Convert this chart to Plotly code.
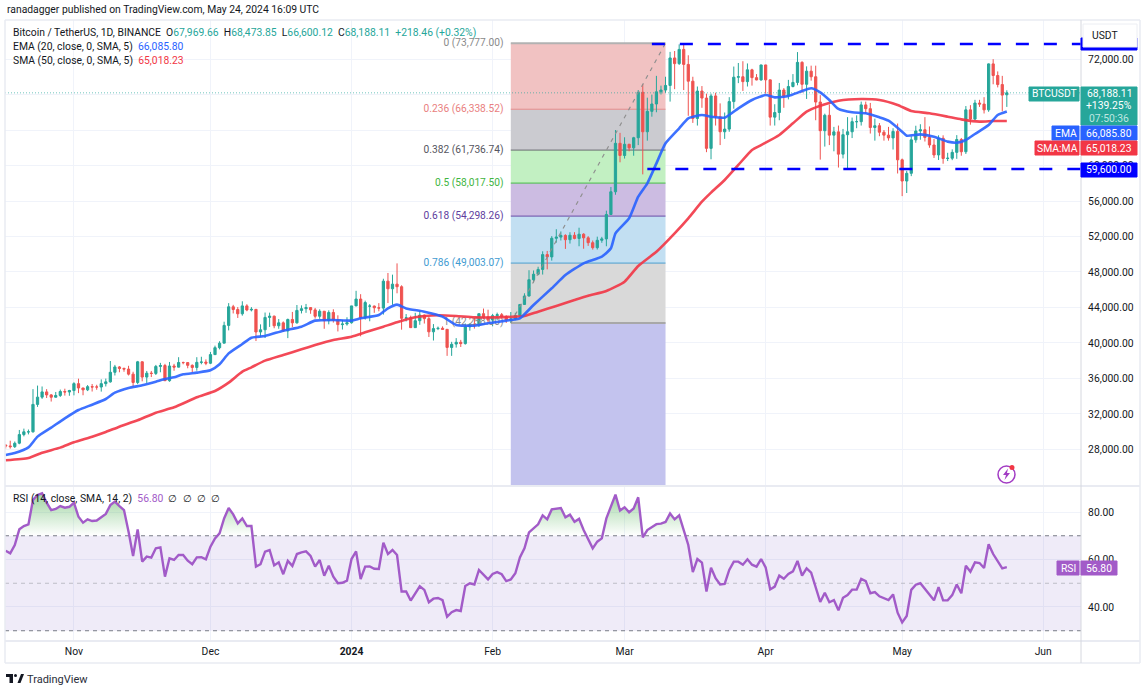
import pandas as pd
import plotly.graph_objects as go
from plotly.subplots import make_subplots

W, H = 1147, 690
PANE_L, PANE_R, PANE_T, PANE_B = 5, 1081, 20, 641
TEXT = "#131722"
FONT = "Roboto, 'Open Sans', sans-serif"
UP = "#26a69a"
DOWN = "#ef5350"
EMA_COL = "#2962ff"
SMA_COL = "#f23645"
RSI_COL = "#a25bc8"
GRID = "#f0f3fa"
BORDER = "#e9ebf2"

first_day = "2023-10-17"
last_day = "2024-05-24"

opens = [
    28500, 28400, 28320, 28713, 29680, 29990, 29990, 33080, 33900, 34490, 34150, 33890, 34090, 34530, 34480,
    34640, 35420, 34930, 34720, 35080, 35040, 35040, 35420, 35620, 36700, 37300, 37130, 37060, 36490, 35550,
    37880, 36160, 36600, 36570, 37360, 37460, 35750, 37410, 37280, 37800, 37790, 37480, 37240, 37820, 37850,
    37720, 38690, 39470, 39980, 41980, 44080, 43770, 43290, 44180, 43720, 43790, 41240, 41490, 42880, 43020,
    41940, 42270, 41360, 42650, 42270, 43670, 43860, 43990, 43730, 43010, 43580, 42520, 43440, 42580, 42070, 42140,
    42280, 44180, 44950, 42850, 44150, 44160, 43970, 43930, 46970, 46110, 46630, 46340, 42780, 42840, 41730, 42510,
    43140, 42740, 41260, 41620, 41660, 41540, 39500, 39880, 40080, 39930, 41820, 42120, 42030, 43300, 42940,
    42580, 43080, 43190, 42990, 42580, 42700, 43090, 44340, 45290, 47130, 47750, 48290, 49960, 49700, 51800,
    51930, 52120, 51640, 52140, 51780, 52260, 51850, 51300, 50740, 51570, 51730, 54480, 57040, 62500,
    61130, 62390, 61990, 63130, 68250, 63800, 66100, 66930, 68300, 68500, 69020, 72120, 71480, 73080, 71390,
    69500, 65300, 68390, 67600, 61930, 67840, 65500, 63800, 64100, 67200, 69950, 70000, 69450, 70780, 69900, 69640,
    71330, 69650, 65450, 65970, 68500, 67830, 68900, 69360, 71620, 69150, 70630, 70000, 67150, 63920, 65660,
    63420, 63790, 61280, 63470, 63800, 64940, 64940, 66830, 66400, 64280, 64480, 63750, 63420, 63110, 63840,
    60640, 58250, 59120, 62890, 63890, 64030, 63160, 62310, 61190, 63070, 60790, 60820, 61480, 62930, 61550,
    66270, 65230, 67040, 66920, 66270, 71450, 70140, 69120, 67969.66,
]
highs = [
    28600, 28990, 28900, 30200, 30350, 30250, 34800, 35200, 35100, 34800, 34250, 34480, 34750, 34850, 34720,
    35580, 35980, 34940, 35260, 35380, 35290, 35900, 35990, 37970, 37530, 37400, 37230, 37430, 36760, 37980,
    37930, 36850, 36850, 37530, 37760, 37650, 37860, 37650, 38400, 37900, 37840, 37590, 38400, 38450, 38150,
    38990, 39700, 40200, 42400, 44490, 44300, 44050, 44700, 44370, 44040, 43810, 42100, 43430, 43420, 43090,
    42700, 42430, 42750, 43500, 44280, 44240, 44400, 44020, 43950, 43800, 43600, 43680, 43800, 43120, 42600, 42900,
    44180, 45880, 45500, 44770, 44380, 44220, 44490, 47240, 47890, 47700, 48970, 46500, 43260, 43080, 43400, 43570,
    43200, 42930, 42130, 41850, 41870, 41550, 40130, 40550, 40350, 42200, 42190, 42840, 43300, 43880, 43750,
    43280, 43420, 43380, 43120, 43490, 43400, 44380, 45600, 48200, 48170, 48590, 50330, 50370, 52040, 52820,
    52570, 52250, 52480, 52490, 52990, 52370, 52040, 51550, 51980, 51960, 54910, 57580, 64000, 63680,
    63180, 62440, 63230, 68500, 69170, 67640, 67990, 70100, 69000, 70000, 72800, 72900, 73650, 73777, 72420,
    70000, 68900, 68950, 68100, 68100, 68200, 67000, 65970, 67700, 71150, 71550, 71750, 71500, 70900, 70300, 71350,
    71350, 69670, 66900, 69300, 68720, 69650, 70300, 72780, 71750, 71170, 71250, 71250, 67930, 65840, 66880,
    64350, 64500, 64120, 65450, 65400, 65650, 67200, 67200, 67050, 65280, 64780, 64000, 64350, 64200, 64730,
    60780, 59400, 63300, 64480, 64650, 65450, 64400, 63000, 63400, 63400, 61430, 61820, 63420, 63100, 66700,
    66800, 67400, 67400, 67700, 71500, 71980, 70600, 70100, 68473.85,
]
lows = [
    28100, 28100, 28170, 28590, 29480, 29700, 29900, 32800, 33700, 33800, 33400, 33860, 33920, 34070, 34050,
    34100, 34350, 34110, 34580, 34530, 34730, 34520, 35100, 35530, 36340, 36700, 36760, 36340, 35050, 35360,
    35680, 35500, 36160, 36390, 36700, 35730, 35630, 36870, 37250, 37600, 37150, 36700, 36880, 37600, 37500,
    37620, 38650, 39280, 39980, 41420, 43330, 42820, 43080, 43580, 43560, 40220, 40680, 40560, 41810, 41660,
    41600, 41250, 40550, 41790, 42180, 43330, 43400, 43290, 42750, 42720, 41600, 42100, 42300, 41300, 41520, 41960,
    42180, 44150, 40750, 42630, 42450, 43400, 43570, 43200, 44500, 44300, 45600, 41500, 42430, 41720, 41720, 42050,
    42190, 40680, 40280, 41450, 41500, 38550, 38550, 39480, 39550, 39820, 41390, 41620, 41800, 42680, 42270,
    41880, 42580, 42880, 42260, 42260, 42570, 42790, 44330, 45250, 46800, 47630, 47710, 48300, 49280, 51300,
    51550, 50600, 51200, 51680, 50900, 50620, 50940, 50520, 50530, 51290, 50900, 54450, 56700, 60360,
    60780, 61600, 61100, 62300, 59000, 62800, 65500, 66000, 68000, 68200, 67200, 68600, 71330, 68500, 65600,
    64800, 64500, 66500, 61500, 60700, 64500, 62300, 63000, 63800, 66400, 69280, 68400, 68900, 69000, 69600, 69560,
    68100, 64500, 64500, 65100, 66500, 67450, 68800, 69040, 68200, 67500, 69560, 65100, 60660, 62130, 62300,
    61600, 59770, 60800, 59600, 63090, 64200, 64500, 65800, 63600, 62800, 63300, 62800, 62800, 61800, 59100,
    56550, 56900, 58800, 62560, 62900, 62700, 62000, 60850, 60620, 60200, 60500, 60600, 60750, 61100, 61300,
    64600, 65100, 66600, 65860, 66050, 69150, 68800, 66100, 66600.12,
]
closes = [
    28400, 28320, 28700, 29680, 29990, 29990, 33080, 33900, 34490, 34150, 33890, 34090, 34530, 34480, 34640,
    35420, 34930, 34720, 35080, 35040, 35040, 35420, 35620, 36700, 37300, 37130, 37060, 36490, 35550, 37880,
    36160, 36600, 36570, 37360, 37460, 35750, 37410, 37280, 37800, 37790, 37480, 37240, 37820, 37850, 37720,
    38690, 39470, 39980, 41980, 44080, 43770, 43290, 44180, 43720, 43790, 41240, 41490, 42880, 43020, 41940,
    42270, 41360, 42650, 42270, 43670, 43860, 43990, 43730, 43010, 43580, 42520, 43440, 42580, 42070, 42140, 42280,
    44180, 44950, 42850, 44560, 44160, 43970, 43930, 46970, 46110, 46630, 46340, 42780, 42840, 41730, 42510, 43140,
    42740, 41260, 41620, 41660, 41540, 39500, 39850, 40080, 39930, 41820, 42120, 42030, 43300, 42940, 42580,
    43080, 43190, 42990, 42580, 42700, 43090, 44340, 45290, 47130, 47750, 48290, 49960, 49700, 51800, 51930,
    52120, 51640, 52140, 51780, 52260, 51850, 51300, 50740, 51570, 51730, 54480, 57040, 62500, 61130,
    62390, 61990, 63130, 68250, 63800, 66100, 66930, 68300, 68500, 69020, 72120, 71480, 73080, 71390, 69500,
    65300, 68390, 67600, 61930, 67840, 65500, 63800, 64100, 67200, 69950, 70000, 69450, 70780, 69900, 69640, 71330,
    69650, 65450, 65970, 68500, 67830, 68900, 69360, 71620, 69150, 70630, 70000, 67150, 63920, 65660, 63420,
    63790, 61280, 63470, 63800, 64940, 64940, 66830, 66400, 64280, 64480, 63750, 63420, 63110, 63840, 60640,
    58250, 59120, 62890, 63890, 64030, 63160, 62310, 61190, 63070, 60790, 60820, 61480, 62930, 61550, 66270,
    65230, 67040, 66920, 66270, 71450, 70140, 69120, 67930, 68188.11,
]

# day number counted from first_day
ema_days = [
    0, 2, 5, 7, 10, 13, 16, 19, 22, 24, 27, 30, 33, 35, 37, 39, 42, 45, 47, 49, 52, 54, 57, 61, 65, 68, 72,
    76, 78, 82, 84, 86, 88, 92, 96, 99, 103, 106, 110, 113, 116, 120, 123, 127, 131, 133, 134, 137, 139, 141,
    143, 145, 148, 150, 153, 155, 158, 161, 164, 167, 169, 172, 175, 177, 179, 181, 183, 186, 189, 192, 194,
    197, 198, 201, 204, 207, 209, 211, 213, 216, 218, 220,
]
ema_values = [
    27380, 27600, 28240, 29450, 30460, 31510, 32450, 33050, 33690, 34400, 34930, 35230, 35640, 35940, 36130,
    36470, 36660, 36920, 37600, 38830, 39890, 40600, 40790, 41390, 41840, 42520, 42590, 42520, 42780, 43150,
    43900, 44320, 43900, 43530, 42970, 42030, 41950, 42220, 42520, 42780, 44280, 46160, 47660, 48980, 49730,
    50670, 52360, 54050, 56490, 57990, 60240, 62500, 64190, 65310, 65690, 65500, 65390, 66440, 67380, 67940,
    67680, 67830, 68390, 68700, 68240, 67380, 66370, 65990, 65880, 65430, 65050, 63810, 63360, 63510, 63250,
    62690, 62570, 62870, 63550, 64560, 65690, 66085.80,
]
sma_days = [
    0, 5, 8, 12, 15, 19, 22, 25, 29, 33, 37, 42, 46, 49, 52, 54, 57, 61, 65, 68, 72, 76, 79, 83, 86, 90, 95,
    99, 103, 108, 112, 114, 117, 121, 125, 128, 132, 136, 139, 143, 147, 150, 153, 155, 158, 161, 164, 166,
    170, 173, 176, 179, 183, 188, 192, 196, 199, 203, 207, 210, 214, 217, 220,
]
sma_values = [
    26780, 27040, 27640, 28210, 28810, 29440, 29970, 30570, 31290, 32150, 32750, 33880, 34590, 35530, 36770,
    37260, 38010, 38650, 39290, 39770, 40340, 40710, 41200, 41840, 42330, 42890, 43120, 43040, 42890, 42890,
    42970, 43040, 43530, 44170, 44840, 45330, 45860, 46910, 48680, 50290, 52360, 54050, 55920, 56940, 58370,
    60060, 61750, 62300, 63440, 64750, 66070, 66740, 67300, 67490, 67380, 66820, 66140, 65880, 65500, 65200,
    64940, 65010, 65018.23,
]
rsi_values = [
    63.7, 62.6, 66.1, 72.7, 74.1, 74.8, 85.1, 87.2, 87.9, 83.9, 80.8, 81.3, 82.5, 81.8, 82.2,
    83.9, 78.0, 75.5, 76.9, 76.2, 76.4, 78.0, 79.2, 82.9, 84.4, 82.5, 80.8, 71.7, 61.5, 72.7,
    59.1, 61.2, 60.8, 64.7, 65.1, 52.8, 60.5, 59.8, 61.9, 61.9, 59.5, 58.0, 60.9, 61.0, 60.1,
    65.4, 68.9, 71.0, 77.3, 81.7, 79.0, 75.2, 77.3, 74.1, 74.1, 57.0, 58.0, 63.3, 64.0, 57.5,
    58.8, 53.8, 59.4, 57.3, 62.3, 63.0, 63.4, 61.5, 57.0, 59.8, 53.2, 57.4, 52.8, 50.0, 50.2, 51.1,
    60.2, 63.4, 51.8, 57.0, 57.1, 56.1, 56.0, 67.1, 62.3, 64.0, 61.9, 46.5, 46.5, 42.7, 45.8, 48.7,
    47.2, 42.0, 43.5, 43.8, 42.9, 35.9, 37.8, 38.7, 38.3, 48.8, 50.0, 49.5, 55.6, 53.5, 51.6,
    53.9, 54.7, 53.8, 50.9, 51.6, 54.2, 60.9, 64.7, 71.4, 73.1, 74.8, 78.6, 76.9, 81.1, 81.3,
    81.7, 77.8, 78.9, 75.9, 77.1, 72.4, 68.5, 64.7, 67.5, 68.9, 77.3, 82.2, 87.3, 80.6,
    82.0, 79.9, 81.5, 86.2, 69.3, 72.4, 73.5, 74.9, 75.1, 75.8, 79.4, 76.9, 78.6, 72.4, 66.1,
    54.7, 60.2, 58.7, 46.5, 56.5, 52.1, 49.5, 49.7, 55.6, 59.1, 59.1, 57.8, 60.1, 57.8, 57.0, 60.2,
    56.7, 47.4, 48.6, 53.2, 51.9, 53.9, 55.0, 59.4, 53.2, 56.3, 54.5, 47.9, 42.1, 46.0, 42.0,
    42.9, 38.6, 43.9, 45.0, 47.3, 47.3, 51.8, 50.9, 45.8, 46.3, 44.5, 43.8, 42.9, 45.3, 37.6,
    33.5, 36.2, 47.2, 49.4, 50.0, 47.6, 45.2, 42.8, 48.4, 42.8, 42.8, 45.0, 49.5, 45.8, 57.4,
    54.9, 58.8, 58.5, 56.4, 66.4, 62.3, 59.5, 56.3, 56.80,
]

price_ticks = [28000, 32000, 36000, 40000, 44000, 48000, 52000, 56000, 60000, 64000, 68000, 72000]
# 64,000 and 68,000 sit behind the price tags in the reference, only their grid lines show
price_labels = [
    "28,000.00", "32,000.00", "36,000.00", "40,000.00", "44,000.00", "48,000.00",
    "52,000.00", "56,000.00", "60,000.00", "", "", "72,000.00",
]
rsi_ticks = [40, 60, 80]
month_ticks = ["2023-11-01", "2023-12-01", "2024-01-01", "2024-02-01", "2024-03-01", "2024-04-01", "2024-05-01", "2024-06-01"]
month_labels = ["Nov", "Dec", "<b>2024</b>", "Feb", "Mar", "Apr", "May", "Jun"]

fib_levels = [73777.00, 66338.52, 61736.74, 58017.50, 54298.26, 49003.07, 42258.00]
fib_names = ["0", "0.236", "0.382", "0.5", "0.618", "0.786", "1"]
fib_lines = ["#b2b2b2", "#e58a8a", "#6b6b73", "#45bf45", "#6a4ba6", "#4a9fd0", "#a8a8a8"]
fib_text = ["#8a8a8a", "#e98080", "#555560", "#3fb53f", "#5e3d9e", "#3f9bd1", "#8a8a8a"]
fib_fills = ["#f1c2c2", "#cbcbd0", "#c2f0c2", "#ccbce2", "#c2dff2", "#d9d9d9", "#c3c3ee"]
fib_start = "2024-02-05"
fib_end = "2024-03-10"
resist_price = 73690
support_price = 59600
resist_start = "2024-03-07"
support_start = "2024-03-06"

dates = pd.date_range(first_day, last_day, freq="D")
x_left = dates[0] - pd.Timedelta(days=0.15)
x_right = dates[0] + pd.Timedelta(days=236.3)
y_bottom = 72000 - (485 - 59) * 112.68
y_top = 72000 + (59 - 20) * 112.68


def px_x(px):
    return (px - PANE_L) / (PANE_R - PANE_L)


def px_y(py):
    return (PANE_B - py) / (PANE_B - PANE_T)


fig = make_subplots(rows=2, cols=1, shared_xaxes=True, vertical_spacing=0.01)

# fib labels go first so the candles sit over them
fig.add_trace(
    go.Scatter(
        x=[pd.Timestamp(fib_start) - pd.Timedelta(days=1.6)] * len(fib_levels),
        y=fib_levels,
        mode="text",
        text=[f"{n} ({v:,.2f})" for n, v in zip(fib_names, fib_levels)],
        textposition="middle left",
        textfont=dict(family=FONT, size=10.2, color=fib_text),
        hoverinfo="skip",
    ),
    row=1, col=1,
)
fig.add_trace(
    go.Scatter(
        x=[fib_start, fib_end], y=[fib_levels[-1], fib_levels[0]],
        mode="lines", line=dict(color="#8f8f8f", width=1.2, dash="4px,5px"), hoverinfo="skip",
    ),
    row=1, col=1,
)
fig.add_trace(
    go.Scatter(
        x=[x_left, x_right], y=[closes[-1], closes[-1]],
        mode="lines", line=dict(color="rgba(38,166,154,0.65)", width=1, dash="1px,2px"), hoverinfo="skip",
    ),
    row=1, col=1,
)
fig.add_trace(
    go.Candlestick(
        x=dates, open=opens, high=highs, low=lows, close=closes,
        increasing=dict(line=dict(color=UP, width=1), fillcolor=UP),
        decreasing=dict(line=dict(color=DOWN, width=1), fillcolor=DOWN),
        whiskerwidth=0,
    ),
    row=1, col=1,
)
fig.add_trace(
    go.Scatter(
        x=dates[sma_days], y=sma_values, mode="lines",
        line=dict(color=SMA_COL, width=2.6, shape="spline", smoothing=0.5), opacity=0.9,
    ),
    row=1, col=1,
)
fig.add_trace(
    go.Scatter(
        x=dates[ema_days], y=ema_values, mode="lines",
        line=dict(color=EMA_COL, width=2.6, shape="spline", smoothing=0.5), opacity=0.9,
    ),
    row=1, col=1,
)
for price, start in [(resist_price, resist_start), (support_price, support_start)]:
    fig.add_trace(
        go.Scatter(
            x=[start, x_right], y=[price, price], mode="lines",
            line=dict(color="#0000ff", width=2.6, dash="13px,15px"), hoverinfo="skip",
        ),
        row=1, col=1,
    )

# RSI pane
fig.add_trace(
    go.Scatter(x=dates, y=[70] * len(dates), mode="lines", line=dict(width=0), hoverinfo="skip"),
    row=2, col=1,
)
fig.add_trace(
    go.Scatter(
        x=dates, y=[max(v, 70) for v in rsi_values], mode="lines", line=dict(width=0),
        fill="tonexty",
        fillgradient=dict(
            type="vertical", start=70, stop=90,
            colorscale=[[0, "rgba(76,175,80,0)"], [1, "rgba(76,175,80,0.6)"]],
        ),
        hoverinfo="skip",
    ),
    row=2, col=1,
)
fig.add_trace(
    go.Scatter(x=dates, y=rsi_values, mode="lines", line=dict(color=RSI_COL, width=2.4)),
    row=2, col=1,
)

shapes = []
# fib bands, last one runs down to the bottom of the pane
bands = fib_levels + [y_bottom]
for i, col in enumerate(fib_fills):
    shapes.append(dict(
        type="rect", xref="x", yref="y", x0=fib_start, x1=fib_end, y0=bands[i], y1=bands[i + 1],
        fillcolor=col, line_width=0, layer="between",
    ))
for i, col in enumerate(fib_lines):
    shapes.append(dict(
        type="line", xref="x", yref="y", x0=fib_start, x1=fib_end, y0=fib_levels[i], y1=fib_levels[i],
        line=dict(color=col, width=2 if i in (0, 6) else 1), layer="between",
    ))
shapes.append(dict(
    type="rect", xref="x2", yref="y2", x0=x_left, x1=x_right, y0=30, y1=70,
    fillcolor="rgba(126,87,194,0.12)", line_width=0, layer="between",
))
for level, col in [(70, "#787b86"), (50, "#bdbdc6"), (30, "#787b86")]:
    shapes.append(dict(
        type="line", xref="x2", yref="y2", x0=x_left, x1=x_right, y0=level, y1=level,
        line=dict(color=col, width=1, dash="4px,4px"), layer="between",
    ))


def px_line(x0, y0, x1, y1, color=BORDER, width=1.5):
    shapes.append(dict(
        type="line", xref="paper", yref="paper", x0=px_x(x0), x1=px_x(x1), y0=px_y(y0), y1=px_y(y1),
        line=dict(color=color, width=width),
    ))


def px_box(x0, y0, x1, y1, fill, line=None):
    shapes.append(dict(
        type="rect", xref="paper", yref="paper", x0=px_x(x0), x1=px_x(x1), y0=px_y(y0), y1=px_y(y1),
        fillcolor=fill, line=dict(color=line or fill, width=1),
    ))


# frame around the panes
px_line(5, 20, 1140, 20)
px_line(5, 486, 1140, 486, width=2)
px_line(5, 641, 1140, 641, width=2)
px_line(5, 663, 1140, 663)
px_line(5, 20, 5, 663)
px_line(1140, 20, 1140, 663)
px_line(1081, 20, 1081, 663, color="#d6d8df", width=1)

# price scale tags
px_box(1081, 38, 1137, 50, "#0000ff")
px_box(1083, 24, 1137, 47, "#ffffff", "#eceef3")
px_box(1081, 87, 1137, 125, UP)
px_box(1029, 87, 1079, 101, UP)
px_box(1081, 126, 1137, 140, EMA_COL)
px_box(1052, 126, 1079, 140, EMA_COL)
px_box(1081, 141, 1137, 155, SMA_COL)
px_box(1035, 141, 1079, 155, SMA_COL)
px_box(1081, 163, 1137, 177, "#0000ff")
px_box(1081, 561, 1117, 575, RSI_COL)
px_box(1057, 561, 1079, 575, RSI_COL)

# chart-ideas badge
shapes.append(dict(
    type="circle", xref="paper", yref="paper", x0=px_x(998), x1=px_x(1015), y0=px_y(483), y1=px_y(466),
    line=dict(color="#a23cc4", width=1.5), fillcolor="rgba(0,0,0,0)",
))
bolt = [(1008, 468.5), (1003, 475), (1006, 475), (1004.5, 480), (1010, 473), (1007, 473)]
shapes.append(dict(
    type="path", xref="paper", yref="paper", line_width=0, fillcolor="#a23cc4",
    path="M" + " L".join(f"{px_x(a):.5f},{px_y(b):.5f}" for a, b in bolt) + " Z",
))
shapes.append(dict(
    type="circle", xref="paper", yref="paper", x0=px_x(1009.5), x1=px_x(1014.5), y0=px_y(470), y1=px_y(465),
    fillcolor="#f23645", line_width=0,
))

# TradingView mark
logo_parts = [
    [(6, 674), (13, 674), (13, 683), (9.5, 683), (9.5, 677), (6, 677)],
    [(17.5, 683), (21, 674), (24, 674), (20.5, 683)],
]
for part in logo_parts:
    shapes.append(dict(
        type="path", xref="paper", yref="paper", line_width=0, fillcolor=TEXT,
        path="M" + " L".join(f"{px_x(a):.5f},{px_y(b):.5f}" for a, b in part) + " Z",
    ))
shapes.append(dict(
    type="circle", xref="paper", yref="paper", x0=px_x(14), x1=px_x(17), y0=px_y(677), y1=px_y(674),
    fillcolor=TEXT, line_width=0,
))

notes = []


def note(px, py, text, color=TEXT, size=10.35, anchor="left"):
    notes.append(dict(
        x=px_x(px), y=px_y(py), xref="paper", yref="paper", text=text, showarrow=False,
        xanchor=anchor, yanchor="middle", borderpad=0, align=anchor,
        font=dict(family=FONT, size=size, color=color),
    ))


def green(t):
    return f"<span style='color:{UP}'>{t}</span>"


note(6, 10, "ranadagger published on TradingView.com, May 24, 2024 16:09 UTC")
note(
    12, 33,
    "Bitcoin / TetherUS, 1D, BINANCE&nbsp;&nbsp;O" + green("67,969.66") + "&nbsp;&nbsp;H" + green("68,473.85")
    + "&nbsp;&nbsp;L" + green("66,600.12") + "&nbsp;&nbsp;C" + green("68,188.11")
    + "&nbsp;&nbsp;" + green("+218.46 (+0.32%)"),
)
note(12, 47, f"EMA (20, close, 0, SMA, 5)&nbsp;&nbsp;<span style='color:{EMA_COL}'>66,085.80</span>")
note(12, 61, f"SMA (50, close, 0, SMA, 5)&nbsp;&nbsp;<span style='color:{SMA_COL}'>65,018.23</span>")
note(
    12, 498,
    f"RSI (14, close, SMA, 14, 2)&nbsp;&nbsp;<span style='color:{RSI_COL}'>56.80</span>"
    "&nbsp;&nbsp;∅&nbsp;&nbsp;∅&nbsp;&nbsp;∅&nbsp;&nbsp;∅",
)
note(1091, 35, "USDT")
note(1054, 94, "BTCUSDT", "#ffffff", anchor="center")
note(1109, 94, "68,188.11", "#ffffff", anchor="center")
note(1109, 106, "+139.25%", "#ffffff", anchor="center")
note(1109, 118, "07:50:36", "#bfe6e1", anchor="center")
note(1065.5, 133, "EMA", "#ffffff", anchor="center")
note(1109, 133, "66,085.80", "#ffffff", anchor="center")
note(1057, 148, "SMA:MA", "#ffffff", anchor="center")
note(1109, 148, "65,018.23", "#ffffff", anchor="center")
note(1109, 170, "59,600.00", "#ffffff", anchor="center")
note(1068, 568, "RSI", "#ffffff", anchor="center")
note(1099, 568, "56.80", "#ffffff", anchor="center")
note(26, 679, "TradingView", "#2a2e39", size=11)

fig.update_layout(
    width=W, height=H,
    margin=dict(l=PANE_L, r=W - PANE_R, t=PANE_T, b=H - PANE_B),
    paper_bgcolor="#ffffff", plot_bgcolor="#ffffff",
    font=dict(family=FONT, size=10.35, color=TEXT),
    showlegend=False, hovermode=False,
    shapes=shapes, annotations=notes,
)
fig.update_xaxes(
    type="date", range=[x_left, x_right], tickvals=month_ticks, ticktext=month_labels,
    showgrid=True, gridcolor=GRID, gridwidth=1, zeroline=False, showline=False,
    ticks="outside", ticklen=1, tickcolor="rgba(0,0,0,0)",
    tickfont=dict(family=FONT, size=10.35, color=TEXT), rangeslider_visible=False,
)
fig.update_yaxes(
    side="right", showgrid=True, gridcolor=GRID, gridwidth=1, zeroline=False, showline=False,
    ticks="outside", ticklen=4, tickcolor="rgba(0,0,0,0)", tickformat=",.2f",
    tickfont=dict(family=FONT, size=10.35, color=TEXT),
)
fig.update_layout(
    yaxis=dict(
        domain=[(PANE_B - 485) / (PANE_B - PANE_T), 1], range=[y_bottom, y_top],
        tickvals=price_ticks, ticktext=price_labels,
    ),
    yaxis2=dict(domain=[0, (PANE_B - 487) / (PANE_B - PANE_T)], range=[25.68, 90.53], tickvals=rsi_ticks),
)

fig.write_html(
    "out.html",
    config={"displayModeBar": False},
    post_script="document.body.style.margin='0';document.body.style.overflow='hidden';",
)
